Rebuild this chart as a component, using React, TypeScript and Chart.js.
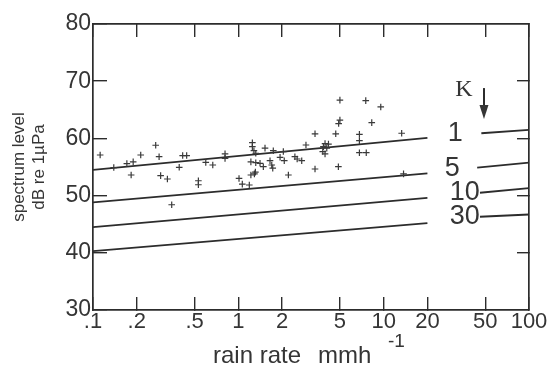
import React, { useEffect, useRef } from 'react';
import { Chart, registerables } from 'chart.js';

Chart.register(...registerables);

// ---- data ----
const rainRate = [
  0.112, 0.139, 0.171, 0.189, 0.183, 0.213, 0.27, 0.285, 0.292, 0.325,
  0.348, 0.392, 0.414, 0.441, 0.531, 0.531, 0.597, 0.667, 0.81, 0.81,
  1.011, 1.065, 1.19, 1.22, 1.29, 1.31, 1.249, 1.249, 1.28, 1.318,
  1.22, 1.318, 1.41, 1.526, 1.486, 1.652, 1.698, 1.74, 1.725, 1.937,
  2.04, 2.07, 2.21, 2.45, 2.54, 2.73, 2.92, 3.37, 3.37, 3.95,
  4.17, 3.85, 4.06, 3.81, 3.95, 4.68, 4.88, 5.0, 5.0, 4.9,
  6.81, 6.81, 6.81, 7.59, 7.53, 8.28, 9.55, 13.3, 13.7,
];
const spectrumLevel = [
  57.1, 54.9, 55.6, 55.9, 53.6, 57.1, 58.8, 56.8, 53.5, 52.9,
  48.4, 54.95, 57.0, 57.0, 52.6, 51.9, 55.8, 55.35, 57.3, 56.5,
  53.0, 52.0, 51.85, 53.6, 53.8, 54.1, 59.25, 58.55, 57.85, 57.4,
  55.9, 55.75, 55.65, 58.3, 55.05, 56.1, 55.35, 57.85, 54.8, 56.7,
  57.7, 56.1, 53.6, 56.8, 56.4, 56.1, 58.85, 60.8, 54.65, 59.1,
  59.0, 58.55, 58.3, 57.7, 57.3, 60.8, 55.05, 66.7, 63.2, 62.6,
  60.7, 59.6, 57.5, 57.5, 66.6, 62.75, 65.5, 60.9, 53.8,
];

const kLabels = ['1', '5', '10', '30'];
const kLineX = [0.1, 20];
const kLineK1 = [54.5, 60.1];
const kLineK5 = [48.8, 53.9];
const kLineK10 = [44.5, 49.6];
const kLineK30 = [40.3, 45.2];
const kSegStartX = [47, 44, 46, 46];
const kSegEndX = 100;
const kSegK1 = [60.9, 61.5];
const kSegK5 = [54.9, 55.75];
const kSegK10 = [50.5, 51.3];
const kSegK30 = [46.3, 46.7];

const xTicks = [0.1, 0.2, 0.5, 1, 2, 5, 10, 20, 50, 100];
const xTickLabels = ['.1', '.2', '.5', '1', '2', '5', '10', '20', '50', '100'];
const yRightTicks = [40, 50, 60, 70];

const kLines = [kLineK1, kLineK5, kLineK10, kLineK30];
const kSegs = [kSegK1, kSegK5, kSegK10, kSegK30];

const INK = '#2c2c2c';
const TEXT = '#353535';

const annotationPlugin = {
  id: 'annot',
  afterDraw(chart: any) {
    const { ctx, chartArea } = chart;
    const xs = chart.scales.x;
    const ys = chart.scales.y;
    ctx.save();
    ctx.fillStyle = TEXT;
    ctx.strokeStyle = INK;
    // K labels in the gap of each line
    const dx = [1, 0, 11, 11];
    ctx.font = '27px "Liberation Sans", Arial, sans-serif';
    ctx.textAlign = 'center';
    ctx.textBaseline = 'middle';
    kLabels.forEach((lab, i) => {
      const xe = xs.getPixelForValue(kLineX[1]);
      const ye = ys.getPixelForValue(kLines[i][1]);
      const xs0 = xs.getPixelForValue(kSegStartX[i]);
      const ys0 = ys.getPixelForValue(kSegs[i][0]);
      const cx = (xe + xs0) / 2 + dx[i];
      const cy = ye + ((ys0 - ye) * (cx - xe)) / (xs0 - xe) - 2;
      ctx.fillText(lab, cx, cy);
    });
    // "K" heading and arrow
    ctx.font = '24px "Liberation Serif", "Times New Roman", serif';
    ctx.fillText('K', xs.getPixelForValue(35.7), ys.getPixelForValue(68.55));
    const ax = xs.getPixelForValue(49);
    const ay0 = ys.getPixelForValue(68.8);
    const ay1 = ys.getPixelForValue(63.4);
    ctx.lineWidth = 2;
    ctx.beginPath();
    ctx.moveTo(ax, ay0);
    ctx.lineTo(ax, ay1 - 10);
    ctx.stroke();
    ctx.beginPath();
    ctx.moveTo(ax - 4.5, ay1 - 14);
    ctx.lineTo(ax + 4.5, ay1 - 14);
    ctx.lineTo(ax, ay1);
    ctx.closePath();
    ctx.fill();
    // x axis title with superscript
    ctx.textAlign = 'left';
    ctx.textBaseline = 'alphabetic';
    ctx.font = '24px "Liberation Sans", Arial, sans-serif';
    ctx.fillText('rain rate', chartArea.left + 120, chartArea.bottom + 53);
    ctx.fillText('mmh', chartArea.left + 225, chartArea.bottom + 53);
    ctx.font = '19px "Liberation Sans", Arial, sans-serif';
    ctx.fillText('-1', chartArea.left + 295, chartArea.bottom + 37);
    ctx.restore();
  },
};

export default function App() {
  const ref = useRef<HTMLCanvasElement | null>(null);
  useEffect(() => {
    if (!ref.current) return;
    const scatterData = rainRate.map((x, i) => ({ x, y: spectrumLevel[i] }));
    const lineSets = kLabels.map((lab, i) => ({
      type: 'line' as const,
      label: 'K=' + lab,
      data: [
        { x: kLineX[0], y: kLines[i][0] },
        { x: kLineX[1], y: kLines[i][1] },
        { x: 30, y: null },
        { x: kSegStartX[i], y: kSegs[i][0] },
        { x: kSegEndX, y: kSegs[i][1] },
      ],
      borderColor: INK,
      borderWidth: 1.8,
      pointRadius: 0,
      spanGaps: false,
      fill: false,
    }));
    const gridCommon = (len: number) => ({
      drawOnChartArea: false,
      drawTicks: true,
      tickLength: len,
      color: INK,
      lineWidth: 1.4,
    });
    const border = { display: true, color: INK, width: 1.7 };
    const fixH = (h: number) => (s: any) => {
      s.height = h;
      s.paddingLeft = 0;
      s.paddingRight = 0;
      s.paddingTop = 0;
      s.paddingBottom = 0;
    };
    const fixW = (w: number) => (s: any) => {
      s.width = w;
      s.paddingLeft = 0;
      s.paddingRight = 0;
      s.paddingTop = 0;
      s.paddingBottom = 0;
    };
    const chart = new Chart(ref.current, {
      type: 'scatter',
      data: {
        datasets: [
          {
            label: 'observations',
            data: scatterData,
            pointStyle: 'cross',
            pointRadius: 3.3,
            borderColor: '#3a3a3a',
            borderWidth: 1.2,
            backgroundColor: '#3a3a3a',
          } as any,
          ...(lineSets as any),
        ],
      },
      options: {
        animation: false,
        responsive: false,
        events: [],
        layout: { padding: 0 },
        plugins: { legend: { display: false }, tooltip: { enabled: false } },
        scales: {
          x: {
            type: 'logarithmic',
            position: 'bottom',
            min: 0.1,
            max: 100,
            afterBuildTicks: (s: any) => {
              s.ticks = xTicks.map((v) => ({ value: v }));
            },
            afterFit: fixH(57),
            ticks: {
              autoSkip: false,
              maxRotation: 0,
              padding: 12,
              color: TEXT,
              font: { family: '"Liberation Sans", Arial, sans-serif', size: 22 },
              callback: (_v: any, i: number) => xTickLabels[i],
            },
            grid: gridCommon(-13),
            border,
          },
          xTop: {
            type: 'logarithmic',
            position: 'top',
            min: 0.1,
            max: 100,
            afterBuildTicks: (s: any) => {
              s.ticks = xTicks.map((v) => ({ value: v }));
            },
            afterFit: fixH(24),
            ticks: { display: false },
            grid: gridCommon(-13),
            border,
          },
          y: {
            type: 'linear',
            position: 'left',
            min: 30,
            max: 80,
            afterFit: fixW(93),
            ticks: {
              stepSize: 10,
              padding: 16,
              color: TEXT,
              font: { family: '"Liberation Sans", Arial, sans-serif', size: 23 },
            },
            title: {
              display: true,
              text: ['spectrum level', 'dB re 1µPa'],
              color: TEXT,
              font: { family: '"Liberation Sans", Arial, sans-serif', size: 17, lineHeight: 1.15 },
              padding: { top: 10, bottom: 0 },
            },
            grid: gridCommon(-14),
            border,
          },
          yRight: {
            type: 'linear',
            position: 'right',
            min: 30,
            max: 80,
            afterBuildTicks: (s: any) => {
              s.ticks = yRightTicks.map((v) => ({ value: v }));
            },
            afterFit: fixW(25),
            ticks: { display: false },
            grid: gridCommon(-12),
            border,
          },
        },
      } as any,
      plugins: [annotationPlugin],
    });
    return () => chart.destroy();
  }, []);
  return (
    <canvas
      ref={ref}
      width={554}
      height={367}
      style={{ position: 'fixed', left: 0, top: 0, width: 554, height: 367, background: '#fff' }}
    />
  );
}
